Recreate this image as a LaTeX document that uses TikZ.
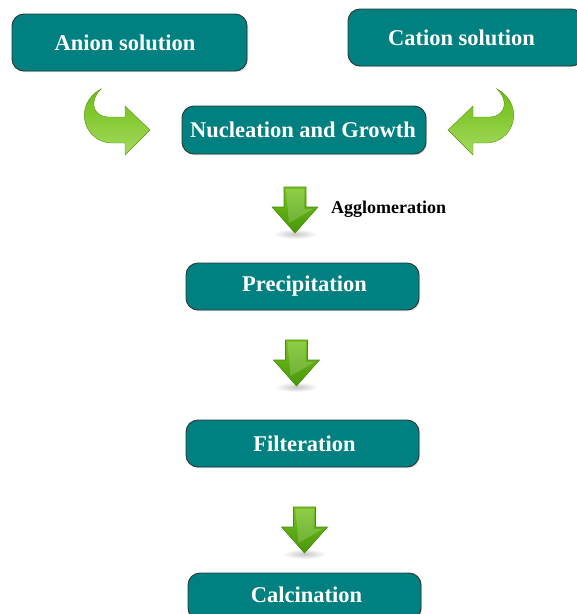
\documentclass[tikz,border=0pt]{standalone}
\usepackage{fontspec}
\setmainfont{Liberation Serif}
\usetikzlibrary{shadows}
\definecolor{tealbox}{RGB}{0,128,128}
\definecolor{boxline}{RGB}{45,55,55}
\definecolor{gtop}{RGB}{120,196,30}
\definecolor{gbot}{RGB}{70,150,8}
\definecolor{gline}{RGB}{72,140,12}
\definecolor{ctop}{RGB}{108,188,18}
\definecolor{cbot}{RGB}{165,218,95}
\newcommand{\dnarrow}[2]{%
  \shade[inner color=gray!45, outer color=white] (#1,#2+47) ellipse [x radius=22, y radius=5];
  \draw[gline, line width=0.6pt, top color=gtop, bottom color=gbot, line join=round]
    (#1-11,#2) -- (#1+11,#2) -- (#1+11,#2+20) -- (#1+23,#2+20) -- (#1,#2+46)
    -- (#1-23,#2+20) -- (#1-11,#2+20) -- cycle;
  \fill[white, opacity=0.18] (#1-9,#2+2) -- (#1+9,#2+2) -- (#1+9,#2+22) -- (#1+18,#2+22) -- (#1-6,#2+36) -- cycle;}
\newcommand{\curvedarrow}{%
  \draw[ctop!80!black, line width=0.4pt, top color=ctop, bottom color=cbot]
    (101,89) .. controls (90,99) and (91,116) .. (108,117) -- (125,117) -- (125,106)
    -- (150,130) -- (125,155) -- (125,143) -- (112,143)
    .. controls (84,143) and (72,105) .. (101,89) -- cycle;}
\begin{document}
\begin{tikzpicture}[x=1pt,y=-1pt,
  box/.style={draw=boxline, line width=0.9pt, fill=tealbox, rounded corners=12pt,
    inner sep=0pt,
    drop shadow={opacity=0.25, shadow xshift=1.2pt, shadow yshift=-1.2pt}},
  lbl/.style={text=white, inner sep=0pt, font=\fontsize{22.5}{26}\selectfont\bfseries}]
\useasboundingbox (0,0) rectangle (577,614);
\clip (0,0) rectangle (577,614);
\node[box, minimum width=235, minimum height=57] (anion) at (129.5,42.5) {};
\node[lbl] at ([xshift=-4.5pt]anion.center) {Anion solution};
\node[box, minimum width=235, minimum height=57] (cation) at (465.5,37.5) {};
\node[lbl] at ([xshift=-4pt]cation.center) {Cation solution};
\node[box, minimum width=244, minimum height=48] (nuc) at (304,130) {};
\node[lbl] at ([xshift=-1pt]nuc.center) {Nucleation and Growth};
\node[box, minimum width=233, minimum height=47] (prec) at (302.5,286.5) {};
\node[lbl] at ([xshift=2pt]prec.center) {Precipitation};
\node[box, minimum width=233, minimum height=47] (filt) at (302.5,443.5) {};
\node[lbl] at ([xshift=2pt]filt.center) {Filteration};
\node[box, minimum width=233, minimum height=47] (calc) at (304.5,596.5) {};
\node[lbl] at ([xshift=2pt, yshift=2pt]calc.center) {Calcination};
\node[anchor=west, font=\fontsize{18}{21}\selectfont\bfseries, inner sep=0pt] (agg) at (331,209) {Agglomeration};
\curvedarrow
\begin{scope}[xshift=598pt, xscale=-1]
\curvedarrow
\end{scope}
\dnarrow{295}{187}
\dnarrow{296.5}{340}
\dnarrow{304.5}{507}
\end{tikzpicture}
\end{document}
